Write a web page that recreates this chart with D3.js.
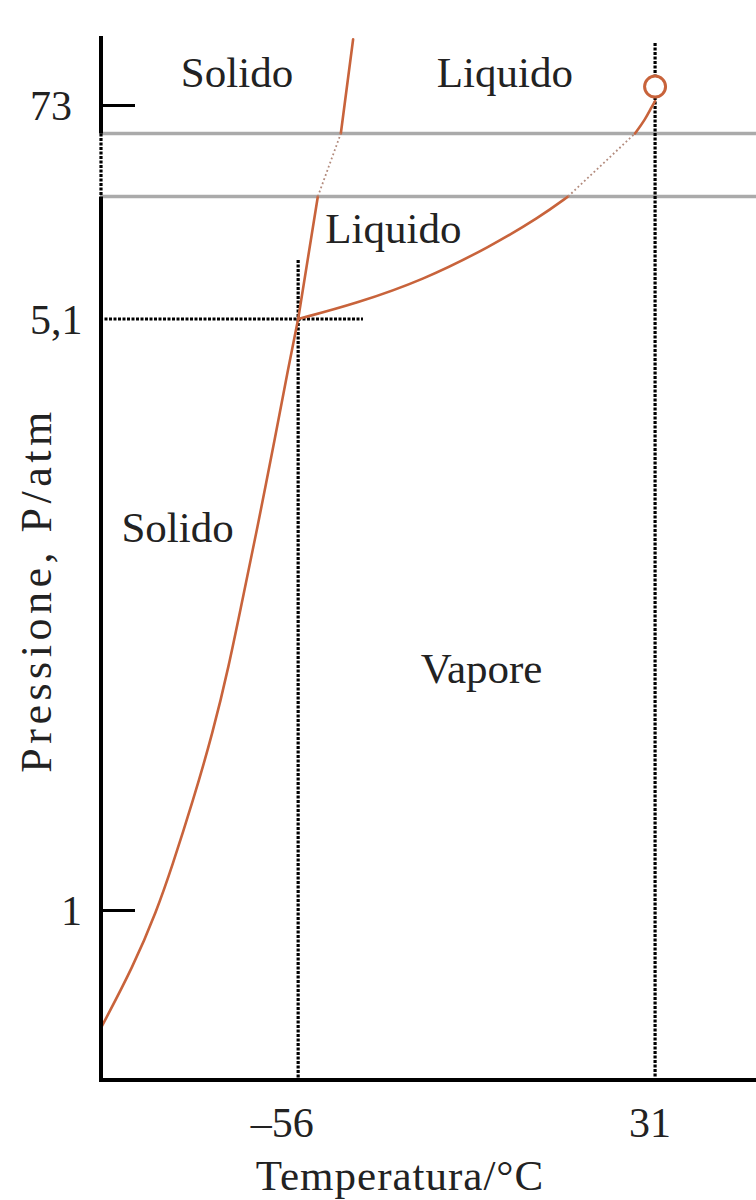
<!DOCTYPE html>
<html>
<head>
<meta charset="utf-8">
<script src="https://cdn.jsdelivr.net/npm/d3@7"></script>
<style>
  body { margin: 0; background: #fff; }
  text { font-family: "Liberation Serif", "DejaVu Serif", serif; fill: #222; }
</style>
</head>
<body>
<div id="chart"></div>
<script>
// CO2 phase diagram (schematic, broken pressure axis)
// temperature in °C, pressure in atm

// solid / vapour boundary, from the bottom up to the triple point
const sublimT = [-103.9, -96.2, -90.4, -86.75, -81.6, -76.8, -72.9, -69.6, -66.15, -61.4, -58.35, -56];
const sublimP = [0.314, 0.667, 1.0, 1.30, 1.76, 2.23, 2.69, 3.15, 3.62, 4.31, 4.77, 5.1];

// liquid / vapour boundary, below the axis break
const vapLowT = [-56, -41.7, -25.5, -9.25, 3.0, 9.8];
const vapLowP = [5.1, 5.73, 6.66, 7.99, 9.19, 10];
// ... and above the break, up to the critical point
const vapHighT = [26.1, 28.5, 30.16, 31.0];
const vapHighP = [60, 66.1, 72.1, 74.8];

// solid / liquid boundary, both sides of the break
const fusLowT = [-56, -51.2];
const fusLowP = [5.1, 10];
const fusHighT = [-45.6, -42.6];
const fusHighP = [60, 103];

const triplePoint = { T: -56, P: 5.1 };
const criticalPoint = { T: 31, P: 81.4 };

// pressure values at the two edges of the axis break
const breakLow = 10;
const breakHigh = 60;

const yTicks = [1, 73];
const yTickLabels = [
  { value: 1, label: "1" },
  { value: 5.1, label: "5,1" },
  { value: 73, label: "73" }
];
const xTickLabels = [
  { value: -56, label: "–56" },
  { value: 31, label: "31" }
];

const regionLabels = [
  { text: "Solido", T: -70.9, P: 81.4 },
  { text: "Liquido", T: -5.6, P: 81.4 },
  { text: "Liquido", T: -32.8, P: 8.14 },
  { text: "Solido", T: -85.4, P: 3.55 },
  { text: "Vapore", T: -11.3, P: 2.575 }
];

const width = 756, height = 1200;
const curveColor = "#c8633b";

const svg = d3.select("#chart").append("svg")
  .attr("width", width)
  .attr("height", height);

svg.append("rect").attr("width", width).attr("height", height).attr("fill", "#fff");

// scales
const x = d3.scaleLinear().domain([-104.3, 55.6]).range([100, 756]);
// piecewise: each segment of the schematic axis has its own stretch
const y = d3.scaleLinear()
  .domain([0, 1, 5.1, breakLow, breakHigh, 104.5])
  .range([1080, 910, 319, 196.5, 133.5, 36]);

const zip = (ts, ps) => ts.map((t, i) => ({ T: t, P: ps[i] }));

// b-spline smooths out the small reading errors in the points
const line = d3.line()
  .x(d => x(d.T))
  .y(d => y(d.P))
  .curve(d3.curveBasis);

const straight = d3.line().x(d => x(d.T)).y(d => y(d.P));

const dotStyle = sel => sel
  .attr("fill", "none")
  .attr("stroke", "#000")
  .attr("stroke-width", 3.2)
  .attr("stroke-dasharray", "3,1.5");

// gray lines marking the break
svg.selectAll(".break-line")
  .data([breakLow, breakHigh])
  .enter().append("line")
  .attr("class", "break-line")
  .attr("x1", x.range()[0]).attr("x2", x.range()[1])
  .attr("y1", d => y(d)).attr("y2", d => y(d))
  .attr("stroke", "#aaaaaa")
  .attr("stroke-width", 3.5);

// dotted guide lines through the triple point and the critical temperature
svg.append("path")
  .call(dotStyle)
  .attr("d", straight([{ T: triplePoint.T, P: 7.46 }, { T: triplePoint.T, P: 0 }]));
svg.append("path")
  .call(dotStyle)
  .attr("d", straight([{ T: -104.3, P: triplePoint.P }, { T: -40.2, P: triplePoint.P }]));
svg.append("path")
  .call(dotStyle)
  .attr("d", straight([{ T: criticalPoint.T, P: 101.3 }, { T: criticalPoint.T, P: 0 }]));

// phase boundaries
const solidCurves = [
  zip(sublimT, sublimP),
  zip(vapLowT, vapLowP),
  zip(vapHighT, vapHighP),
  zip(fusLowT, fusLowP),
  zip(fusHighT, fusHighP)
];
svg.selectAll(".boundary")
  .data(solidCurves)
  .enter().append("path")
  .attr("class", "boundary")
  .attr("d", line)
  .attr("fill", "none")
  .attr("stroke", curveColor)
  .attr("stroke-width", 2.6)
  .attr("stroke-linecap", "round");

// dotted continuation across the break
const bridges = [
  [zip(fusLowT, fusLowP)[1], zip(fusHighT, fusHighP)[0]],
  [zip(vapLowT, vapLowP)[5], zip(vapHighT, vapHighP)[0]]
];
svg.selectAll(".bridge")
  .data(bridges)
  .enter().append("path")
  .attr("class", "bridge")
  .attr("d", straight)
  .attr("fill", "none")
  .attr("stroke", "#b28a7c")
  .attr("stroke-width", 1.8)
  .attr("stroke-dasharray", "1.8,2.6");

// critical point
svg.append("circle")
  .attr("cx", x(criticalPoint.T))
  .attr("cy", y(criticalPoint.P))
  .attr("r", 10.5)
  .attr("fill", "#fff")
  .attr("stroke", curveColor)
  .attr("stroke-width", 3);

// axes: left one is broken between the gray lines
const axisX = x.range()[0] + 1;
svg.append("line")
  .attr("x1", axisX).attr("x2", axisX)
  .attr("y1", y(104.5)).attr("y2", y(breakHigh))
  .attr("stroke", "#000").attr("stroke-width", 4);
svg.append("line")
  .attr("x1", axisX).attr("x2", axisX)
  .attr("y1", y(breakLow)).attr("y2", y(0) + 2)
  .attr("stroke", "#000").attr("stroke-width", 4);
svg.append("path")
  .call(dotStyle)
  .attr("d", `M${axisX},${y(breakHigh)}V${y(breakLow)}`);
svg.append("line")
  .attr("x1", axisX - 2).attr("x2", width)
  .attr("y1", y(0)).attr("y2", y(0))
  .attr("stroke", "#000").attr("stroke-width", 4);

const yAxis = d3.axisLeft(y).tickValues(yTicks).tickSize(-34).tickFormat("");
const yAxisG = svg.append("g")
  .attr("transform", `translate(${axisX},0)`)
  .call(yAxis);
yAxisG.select(".domain").remove();
yAxisG.selectAll(".tick line").attr("stroke", "#000").attr("stroke-width", 3);

// tick labels
svg.selectAll(".ylab")
  .data(yTickLabels)
  .enter().append("text")
  .attr("class", "ylab")
  .attr("x", d => d.value === 1 ? 82 : 30)
  .attr("y", d => y(d.value) + 15)
  .attr("text-anchor", d => d.value === 1 ? "end" : "start")
  .attr("font-size", 42)
  .text(d => d.label);

svg.selectAll(".xlab")
  .data(xTickLabels)
  .enter().append("text")
  .attr("class", "xlab")
  .attr("x", d => x(d.value) + (d.value < 0 ? -16 : -5))
  .attr("y", 1137)
  .attr("text-anchor", "middle")
  .attr("font-size", 42)
  .text(d => d.label);

// region labels
svg.selectAll(".region")
  .data(regionLabels)
  .enter().append("text")
  .attr("class", "region")
  .attr("x", d => x(d.T))
  .attr("y", d => y(d.P))
  .attr("text-anchor", "middle")
  .attr("font-size", 43)
  .text(d => d.text);

// axis titles
svg.append("text")
  .attr("x", 400)
  .attr("y", 1190)
  .attr("text-anchor", "middle")
  .attr("font-size", 43)
  .attr("letter-spacing", 1)
  .text("Temperatura/°C");

svg.append("text")
  .attr("transform", "translate(51,590) rotate(-90)")
  .attr("text-anchor", "middle")
  .attr("font-size", 44)
  .attr("letter-spacing", 4.5)
  .text("Pressione, P/atm");
</script>
</body>
</html>
